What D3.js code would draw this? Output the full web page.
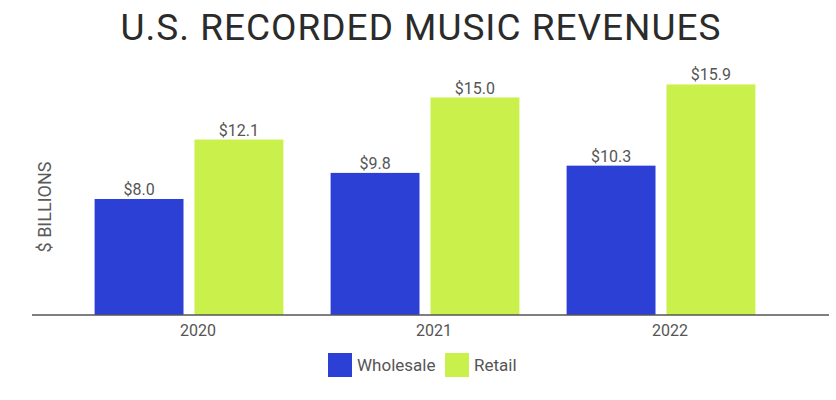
<!DOCTYPE html>
<html><head><meta charset="utf-8">
<script src="https://cdn.jsdelivr.net/npm/d3@7"></script>
<style>body{margin:0;background:#fff}svg{display:block}text{font-family:Roboto,sans-serif}</style>
</head><body><svg id="c" width="836" height="400"></svg>
<script>
const years = ["2020","2021","2022"];
const seriesNames = ["Wholesale","Retail"];
const wholesale = [8.0, 9.8, 10.3];
const retail = [12.1, 15.0, 15.9];
const valueLabels = [["$8.0","$9.8","$10.3"],["$12.1","$15.0","$15.9"]];
const colors = ["#2d40d6","#c9f04b"];

const svg = d3.select("#c");
const baseY = 315;
const y = d3.scaleLinear().domain([0,16]).range([baseY, baseY-232]);
const x0 = d3.scaleBand().domain(years).range([71,779]).paddingInner(0.2).paddingOuter(0.1);
const x1 = d3.scaleBand().domain(seriesNames).range([0,x0.bandwidth()]).paddingInner(0.11).paddingOuter(0);
const vals = [wholesale, retail];

svg.append("text").attr("x",421).attr("y",40).attr("text-anchor","middle")
  .attr("font-size",37).attr("letter-spacing",1).attr("fill","#2b2b2b").text("U.S. RECORDED MUSIC REVENUES");

svg.append("text").attr("transform","translate(51,207) rotate(-90)").attr("text-anchor","middle")
  .attr("font-size",18).attr("fill","#5a5a5a").text("$ BILLIONS");

seriesNames.forEach((s,si)=>{
  const g = svg.append("g");
  g.selectAll("rect").data(years).join("rect")
    .attr("x",d=>x0(d)+x1(s)).attr("width",x1.bandwidth())
    .attr("y",(d,i)=>y(vals[si][i])).attr("height",(d,i)=>baseY-y(vals[si][i]))
    .attr("fill",colors[si]);
  g.selectAll("text").data(years).join("text")
    .attr("x",d=>x0(d)+x1(s)+x1.bandwidth()/2).attr("y",(d,i)=>y(vals[si][i])-4)
    .attr("text-anchor","middle").attr("font-size",16).attr("fill","#555")
    .text((d,i)=>valueLabels[si][i]);
});

const ax = svg.append("g").attr("transform",`translate(0,${baseY})`)
  .call(d3.axisBottom(x0).tickSize(0).tickPadding(10));
ax.select(".domain").remove();
ax.selectAll("text").attr("font-size",16).attr("fill","#555").attr("dx",9).attr("font-family","Roboto,sans-serif");
svg.append("line").attr("x1",32).attr("x2",829).attr("y1",baseY).attr("y2",baseY)
  .attr("stroke","#555").attr("stroke-width",1.5);

const lg = svg.append("g");
const lx = [328, 445];
seriesNames.forEach((s,i)=>{
  lg.append("rect").attr("x",lx[i]).attr("y",353).attr("width",24).attr("height",24).attr("fill",colors[i]);
  lg.append("text").attr("x",lx[i]+29).attr("y",371).attr("font-size",17).attr("fill","#555").text(s);
});
</script></body></html>
